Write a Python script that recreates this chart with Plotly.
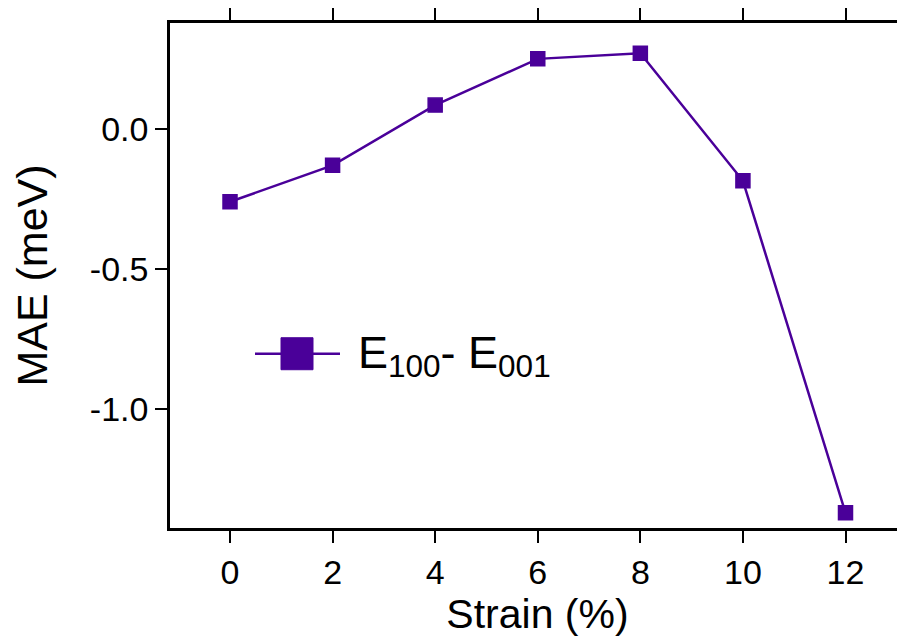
import plotly.graph_objects as go

strain = [0, 2, 4, 6, 8, 10, 12]
mae = [-0.26, -0.13, 0.085, 0.25, 0.27, -0.185, -1.37]
x_ticks = [0, 2, 4, 6, 8, 10, 12]
y_tickvals = [0.0, -0.5, -1.0]
y_ticktext = ["0.0", "-0.5", "-1.0"]

color = "#4a0099"
font = "Arial, Liberation Sans, sans-serif"

fig = go.Figure()
fig.add_trace(go.Scatter(
    x=strain, y=mae, mode="lines+markers",
    line=dict(color=color, width=2.5),
    marker=dict(symbol="square", size=14, color=color, line=dict(color=color, width=1.5)),
    showlegend=False,
))

# page body adds an 8px offset; compensate so the plot area sits at the reference pixels
OFF = 8
L, T, B = 170 - OFF, 18 - OFF, 109
W, H = 905 - OFF, 637 - OFF
pw = W - L
ph = H - T - B

def px(xp):
    return (xp - OFF - L) / pw

def py(yp):
    return (H - B - (yp - OFF)) / ph

# legend drawn manually
ly = py(352)
fig.add_shape(type="line", xref="paper", yref="paper", x0=px(255), x1=px(340), y0=ly, y1=ly,
              line=dict(color=color, width=2.5))
fig.add_shape(type="rect", xref="paper", yref="paper", xsizemode="pixel", ysizemode="pixel",
              xanchor=px(297), yanchor=ly, x0=-16, x1=16, y0=-16, y1=16,
              fillcolor=color, line=dict(color=color, width=1))
fig.add_annotation(xref="paper", yref="paper", x=px(356), y=py(354), xanchor="left", yanchor="middle",
                   text="E<sub>100</sub>- E<sub>001</sub>", showarrow=False,
                   font=dict(family=font, size=45, color="black"))

fig.update_layout(
    width=W, height=H,
    margin=dict(l=L, r=0, t=T, b=B),
    plot_bgcolor="white", paper_bgcolor="white",
    font=dict(family=font, color="black"),
    xaxis=dict(
        range=[-1.17, 13.16], tickvals=x_ticks, ticks="outside", ticklen=12, tickwidth=2,
        tickcolor="black", showline=True, linecolor="black", linewidth=2.5, mirror="ticks",
        showgrid=False, zeroline=False, tickfont=dict(size=34),
        title=dict(text="Strain (%)", font=dict(size=41), standoff=8),
    ),
    yaxis=dict(
        range=[-1.424, 0.378], tickvals=y_tickvals, ticktext=y_ticktext, ticks="outside",
        ticklen=12, tickwidth=2, tickcolor="black", showline=True, linecolor="black",
        linewidth=2.5, showgrid=False, zeroline=False, tickfont=dict(size=34),
        title=dict(text="MAE (meV)", font=dict(size=43), standoff=34),
    ),
)

fig.write_html("out.html")
